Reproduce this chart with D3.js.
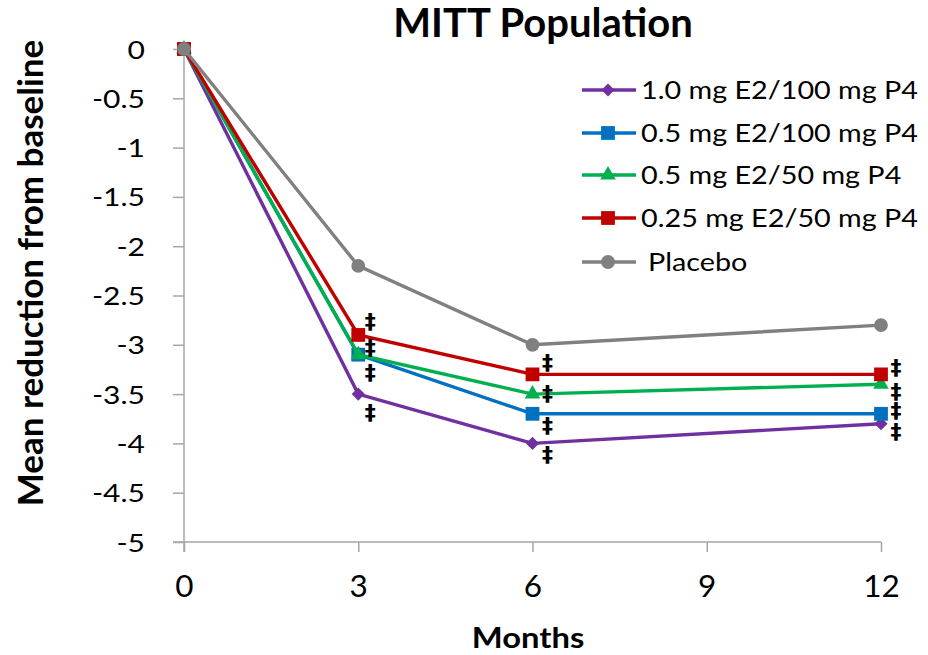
<!DOCTYPE html>
<html>
<head>
<meta charset="utf-8">
<script src="https://cdn.jsdelivr.net/npm/d3@7"></script>
<style>
body { margin: 0; background: #fff; }
text { font-family: Lato, "Open Sans", sans-serif; }
</style>
</head>
<body>
<svg id="chart" width="928" height="655"></svg>
<script>
var months = [0, 3, 6, 12];
var xTicks = [0, 3, 6, 9, 12];
var yTicks = [0, -0.5, -1, -1.5, -2, -2.5, -3, -3.5, -4, -4.5, -5];

var seriesNames = ["1.0 mg E2/100 mg P4", "0.5 mg E2/100 mg P4", "0.5 mg E2/50 mg P4", "0.25 mg E2/50 mg P4", "Placebo"];
var seriesColors = ["#7030A0", "#0070C0", "#00B050", "#C00000", "#808080"];
var seriesShapes = ["diamond", "square", "triangle", "square", "circle"];

var e2_10_p100 = [0, -3.5, -4.0, -3.8];
var e2_05_p100 = [0, -3.1, -3.7, -3.7];
var e2_05_p50 = [0, -3.1, -3.5, -3.4];
var e2_025_p50 = [0, -2.9, -3.3, -3.3];
var placebo = [0, -2.2, -3.0, -2.8];
var seriesValues = [e2_10_p100, e2_05_p100, e2_05_p50, e2_025_p50, placebo];

// significance marks (‡): month and where they sit on the value axis
var sigMonths = [3, 3, 3, 3, 6, 6, 6, 6, 12, 12, 12, 12];
var sigValues = [-2.76, -3.03, -3.28, -3.68, -3.18, -3.49, -3.82, -4.11, -3.23, -3.47, -3.66, -3.88];

var svg = d3.select("#chart");
var axisColor = "#A6A6A6";

var x = d3.scaleLinear().domain([0, 12]).range([184, 881]);
var y = d3.scaleLinear().domain([0, -5]).range([49, 542]);

// y axis
var yAxis = svg.append("g").attr("transform", "translate(184,0)")
	.call(d3.axisLeft(y).tickValues(yTicks).tickSize(11)
		.tickFormat(function(d){ return String(d); }));
yAxis.select(".domain").attr("stroke", axisColor).attr("stroke-width", 1.5)
	.attr("d", "M0,49V552");
yAxis.selectAll(".tick line").attr("stroke", axisColor).attr("stroke-width", 1.5);
yAxis.selectAll(".tick text")
	.attr("x", 0).attr("dy", "0.36em")
	.attr("transform", "translate(-39,0) scale(1.2,1)")
	.attr("font-size", 25).attr("fill", "#000")
	.style("font-family", "Lato, sans-serif");

// x axis (crosses at -5)
var xAxis = svg.append("g").attr("transform", "translate(0,542)")
	.call(d3.axisBottom(x).tickValues(xTicks).tickSize(10));
xAxis.select(".domain").attr("stroke", axisColor).attr("stroke-width", 1.5)
	.attr("d", "M173,0H881");
xAxis.selectAll(".tick line").attr("stroke", axisColor).attr("stroke-width", 1.5);
xAxis.selectAll(".tick text")
	.attr("y", 55).attr("dy", 0)
	.attr("transform", "scale(1.05,1)")
	.attr("font-size", 30).attr("fill", "#000")
	.style("font-family", "Lato, sans-serif");

// titles
svg.append("text").attr("x", 543).attr("y", 37).attr("text-anchor", "middle")
	.attr("font-size", 40).attr("font-weight", "bold").text("MITT Population");
svg.append("text").attr("transform", "translate(528,648) scale(1.13,1)").attr("text-anchor", "middle")
	.attr("font-size", 29).attr("font-weight", "bold").text("Months");
svg.append("text").attr("transform", "translate(43,273) rotate(-90)").attr("text-anchor", "middle")
	.attr("font-size", 35).attr("font-weight", "bold").text("Mean reduction from baseline");

var symbolFor = function(shape){
	if(shape == "diamond") return d3.symbol().type(d3.symbolDiamond2).size(110);
	if(shape == "square") return d3.symbol().type(d3.symbolSquare).size(190);
	if(shape == "triangle") return d3.symbol().type(d3.symbolTriangle).size(105);
	return d3.symbol().type(d3.symbolCircle).size(150);
};

var line = d3.line()
	.x(function(d, i){ return x(months[i]); })
	.y(function(d){ return y(d); });

var series = svg.selectAll(".series")
	.data(seriesValues)
	.enter()
	.append("g")
	.attr("class", "series");

series.append("path")
	.attr("d", function(d){ return line(d); })
	.attr("fill", "none")
	.attr("stroke", function(d, i){ return seriesColors[i]; })
	.attr("stroke-width", 3.4);

series.each(function(vals, si){
	d3.select(this).selectAll(".pt")
		.data(vals)
		.enter()
		.append("path")
		.attr("class", "pt")
		.attr("transform", function(d, i){ return "translate(" + x(months[i]) + "," + y(d) + ")"; })
		.attr("d", symbolFor(seriesShapes[si])())
		.attr("fill", seriesColors[si]);
});

// ‡ marks
svg.selectAll(".sig")
	.data(sigValues)
	.enter()
	.append("text")
	.attr("class", "sig")
	.attr("x", function(d, i){ return x(sigMonths[i]) + (sigMonths[i] == 3 ? 12 : 15); })
	.attr("y", function(d){ return y(d); })
	.attr("dy", "0.35em")
	.attr("text-anchor", "middle")
	.attr("font-size", 22)
	.attr("font-weight", "bold")
	.style("font-family", "DejaVu Sans, sans-serif")
	.text("\u2021");

// legend
var legend = svg.selectAll(".legend")
	.data(seriesNames)
	.enter()
	.append("g")
	.attr("class", "legend")
	.attr("transform", function(d, i){ return "translate(0," + [90, 133, 175, 218, 262][i] + ")"; });

legend.append("line")
	.attr("x1", 582).attr("x2", 636).attr("y1", 0).attr("y2", 0)
	.attr("stroke", function(d, i){ return seriesColors[i]; })
	.attr("stroke-width", 3.4);
legend.append("path")
	.attr("transform", "translate(608,0)")
	.attr("d", function(d, i){ return symbolFor(seriesShapes[i])(); })
	.attr("fill", function(d, i){ return seriesColors[i]; });
legend.append("text")
	.attr("transform", function(d, i){ return "translate(" + (i == 4 ? 648 : 641) + ",0) scale(1.15,1)"; })
	.attr("dy", "0.36em")
	.attr("font-size", 25)
	.text(function(d){ return d; });
</script>
</body>
</html>
